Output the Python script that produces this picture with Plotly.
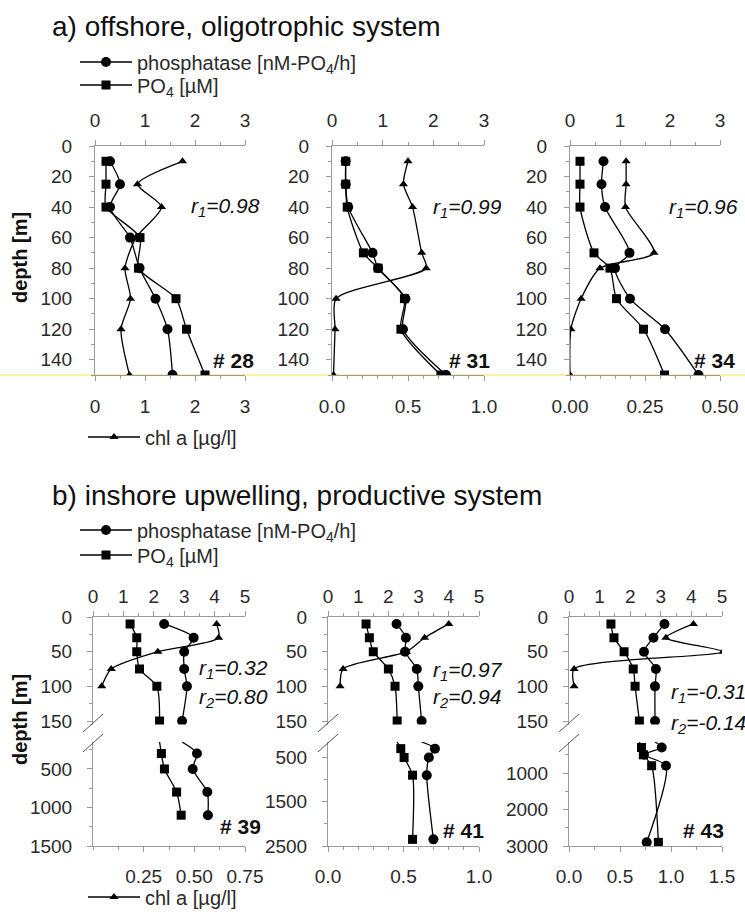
import plotly.graph_objects as go

W, H = 745, 915
def px(x): return x / W
def py(y): return 1 - y / H

FONT = "Liberation Sans, Arial, sans-serif"
AXC = "#9a9a9a"
TXT = "#2a2a2a"

# ---------------- data: a) offshore, oligotrophic system ----------------
depth28 = [10, 25, 40, 60, 80, 100, 120, 150]
phos28 = [0.30, 0.50, 0.30, 0.70, 0.89, 1.21, 1.45, 1.55]
po4_28 = [0.22, 0.22, 0.22, 0.90, 0.87, 1.62, 1.83, 2.20]
chl28 = [1.75, 0.85, 1.33, 0.82, 0.60, 0.71, 0.52, 0.69]

depth31 = [10, 25, 40, 70, 80, 100, 120, 150]
phos31 = [0.27, 0.27, 0.32, 0.80, 0.91, 1.45, 1.40, 2.25]
po4_31 = [0.27, 0.27, 0.30, 0.62, 0.91, 1.43, 1.36, 2.15]
chl31 = [0.50, 0.47, 0.53, 0.59, 0.62, 0.027, 0.02, 0.01]

depth34 = [10, 25, 40, 70, 80, 100, 120, 150]
phos34 = [0.67, 0.63, 0.70, 1.19, 0.90, 1.20, 1.90, 2.57]
po4_34 = [0.20, 0.20, 0.20, 0.48, 0.80, 0.93, 1.47, 1.89]
chl34 = [0.187, 0.187, 0.185, 0.28, 0.10, 0.037, 0.003, 0.0]

# ---------------- data: b) inshore upwelling, productive system ----------------
depth_up = [10, 30, 50, 75, 100, 150]
depth_chl = [10, 30, 50, 75, 100]

phos39_u = [2.34, 3.31, 3.00, 3.00, 3.09, 2.93]
po4_39_u = [1.22, 1.44, 1.44, 1.53, 2.10, 2.19]
chl39 = [0.61, 0.62, 0.32, 0.09, 0.043]
depth39_l = [300, 500, 800, 1100]
phos39_l = [3.42, 3.28, 3.76, 3.78]
po4_39_l = [2.25, 2.35, 2.75, 2.90]

phos41_u = [2.27, 2.58, 2.55, 2.94, 2.99, 3.10]
po4_41_u = [1.26, 1.37, 1.50, 2.00, 2.22, 2.29]
chl41 = [0.80, 0.64, 0.52, 0.10, 0.08]
depth41_l = [300, 500, 900, 2350]
phos41_l = [3.54, 3.34, 3.27, 3.49]
po4_41_l = [2.41, 2.52, 2.80, 2.80]

phos43_u = [3.12, 2.76, 2.45, 2.84, 2.81, 2.81]
po4_43_u = [1.37, 1.47, 1.80, 2.10, 2.16, 2.30]
chl43 = [1.22, 0.95, 1.51, 0.05, 0.05]
depth43_l = [300, 500, 800, 2900]
phos43_l = [3.03, 2.45, 3.17, 2.54]
po4_43_l = [2.37, 2.43, 2.70, 2.92]

r_a = ["0.98", "0.99", "0.96"]
r1_b = ["0.32", "0.97", "-0.31"]
r2_b = ["0.80", "0.94", "-0.14"]
stations_a = ["28", "31", "34"]
stations_b = ["39", "41", "43"]

name_phos = "phosphatase [nM-PO<sub>4</sub>/h]"
name_po4 = "PO<sub>4</sub> [µM]"
name_chl = "chl a [µg/l]"

# ---------------- styling helpers ----------------
TICKSIZE = 19
LINE = dict(color="black", width=1.3, shape="spline", smoothing=0.7)
MK = {"phos": dict(symbol="circle", size=10, color="black", opacity=1),
      "po4": dict(symbol="square", size=9, color="black", opacity=1),
      "chl": dict(symbol="triangle-up", size=8, color="black", opacity=1)}

def axis_common():
    return dict(showline=True, linecolor=AXC, linewidth=1, ticks="outside", ticklen=5,
                tickcolor=AXC, tickwidth=1, showgrid=False, zeroline=False, fixedrange=True,
                automargin=False, tickfont=dict(size=TICKSIZE, color=TXT, family=FONT))

layout = {}
fig = go.Figure()
xc = [0]
yc = [0]

def new_x(**kw):
    xc[0] += 1
    n = xc[0]
    key = "xaxis" if n == 1 else f"xaxis{n}"
    d = axis_common(); d.update(kw)
    layout[key] = d
    return "x" if n == 1 else f"x{n}"

def new_y(**kw):
    yc[0] += 1
    n = yc[0]
    key = "yaxis" if n == 1 else f"yaxis{n}"
    d = axis_common(); d.update(kw)
    layout[key] = d
    return "y" if n == 1 else f"y{n}"

def set_anchor(axid, anchor):
    key = ("xaxis" if axid[0] == "x" else "yaxis") + axid[1:]
    layout[key]["anchor"] = anchor

def add(x, y, xa, ya, kind, name=None, legend=None, mode="lines+markers"):
    fig.add_trace(go.Scatter(x=x, y=y, xaxis=xa, yaxis=ya, mode=mode,
                             line=LINE, marker=MK[kind], name=name or "",
                             showlegend=legend is not None, legend=legend or "legend",
                             cliponaxis=True, hoverinfo="skip"))

# ---------------- panel a ----------------
a_x = [(95, 245), (332, 484), (570, 720)]
a_y = (146, 375)
a_chl = [dict(range=[0, 3], tick0=0, dtick=1, minor=0.5, fmt=""),
         dict(range=[0, 1], tick0=0, dtick=0.5, minor=0.1, fmt=".1f"),
         dict(range=[0, 0.5], tick0=0, dtick=0.25, minor=0.05, fmt=".2f")]
a_data = [(depth28, phos28, po4_28, chl28), (depth31, phos31, po4_31, chl31),
          (depth34, phos34, po4_34, chl34)]

for i in range(3):
    dom = [px(a_x[i][0]), px(a_x[i][1])]
    xt = new_x(domain=dom, range=[0, 3], side="top", tickmode="linear", tick0=0, dtick=1,
               minor=dict(ticks="outside", ticklen=3, tickcolor=AXC, dtick=0.5),
               ticklabelstandoff=5)
    c = a_chl[i]
    xb = new_x(domain=dom, range=c["range"], side="bottom", tickmode="linear", tick0=c["tick0"],
               dtick=c["dtick"], tickformat=c["fmt"], overlaying=xt,
               minor=dict(ticks="outside", ticklen=3, tickcolor=AXC, dtick=c["minor"]),
               ticklabelstandoff=9)
    ya = new_y(domain=[py(a_y[1]), py(a_y[0])], range=[150, 0], tickmode="linear", tick0=0,
               dtick=20, minor=dict(ticks="outside", ticklen=3, tickcolor=AXC, dtick=10),
               ticklabelstandoff=13)
    set_anchor(xt, ya); set_anchor(xb, ya); set_anchor(ya, xt)
    d, ph, po, ch = a_data[i]
    leg = i == 0
    add(ph, d, xt, ya, "phos", name_phos if leg else None, "legend" if leg else None)
    add(po, d, xt, ya, "po4", name_po4 if leg else None, "legend2" if leg else None)
    add(ch, d, xb, ya, "chl", name_chl if leg else None, "legend3" if leg else None)

# ---------------- panel b ----------------
b_x = [(93, 245), (328, 479), (569, 722)]
b_up = (617, 724.5)
b_lo = (742, 846)
b_lo_rng = [1500, 2500, 3000]
b_lo_ticks = [dict(vals=[500, 1000, 1500], minor=250),
              dict(vals=[500, 1500, 2500], minor=500),
              dict(vals=[1000, 2000, 3000], minor=500)]
b_chl = [dict(range=[0, 0.75], vals=[0.25, 0.5, 0.75], fmt=".2f", minor=0.125),
         dict(range=[0, 1.0], vals=[0, 0.5, 1.0], fmt=".1f", minor=0.1),
         dict(range=[0, 1.5], vals=[0, 0.5, 1.0, 1.5], fmt=".1f", minor=0.25)]
b_data = [(phos39_u, po4_39_u, chl39, depth39_l, phos39_l, po4_39_l),
          (phos41_u, po4_41_u, chl41, depth41_l, phos41_l, po4_41_l),
          (phos43_u, po4_43_u, chl43, depth43_l, phos43_l, po4_43_l)]

for i in range(3):
    dom = [px(b_x[i][0]), px(b_x[i][1])]
    xt = new_x(domain=dom, range=[0, 5], side="top", tickmode="linear", tick0=0, dtick=1,
               minor=dict(ticks="outside", ticklen=3, tickcolor=AXC, dtick=0.5),
               ticklabelstandoff=0)
    c = b_chl[i]
    xb = new_x(domain=dom, range=c["range"], side="bottom", tickmode="array", tickvals=c["vals"],
               tickformat=c["fmt"], overlaying=xt,
               minor=dict(ticks="outside", ticklen=3, tickcolor=AXC, tickmode="linear",
                          tick0=0, dtick=c["minor"]),
               ticklabelstandoff=8)
    yu = new_y(domain=[py(b_up[1]), py(b_up[0])], range=[155, 0], tickmode="array",
               tickvals=[0, 50, 100, 150],
               minor=dict(ticks="outside", ticklen=3, tickcolor=AXC, tickmode="array",
                          tickvals=[25, 75, 125]),
               ticklabelstandoff=11)
    t = b_lo_ticks[i]
    yl = new_y(domain=[py(b_lo[1]), py(b_lo[0])], range=[b_lo_rng[i], 150], tickmode="array",
               tickvals=t["vals"],
               minor=dict(ticks="outside", ticklen=3, tickcolor=AXC, tickmode="linear",
                          tick0=0, dtick=t["minor"]),
               ticklabelstandoff=11)
    set_anchor(xt, yu); set_anchor(xb, yl); set_anchor(yu, xt); set_anchor(yl, xt)
    ph, po, ch, dl, phl, pol = b_data[i]
    leg = i == 0
    add(ph, depth_up, xt, yu, "phos", name_phos if leg else None, "legend4" if leg else None)
    add(po, depth_up, xt, yu, "po4", name_po4 if leg else None, "legend5" if leg else None)
    add(ch, depth_chl, xb, yu, "chl", name_chl if leg else None, "legend6" if leg else None)
    # lower segment: line continues from the 150 m sample across the axis break
    add([po[-1]] + pol, [depth_up[-1]] + dl, xt, yl, "po4", mode="lines")
    add([ph[-1]] + phl, [depth_up[-1]] + dl, xt, yl, "phos", mode="lines")
    add(pol, dl, xt, yl, "po4", mode="markers")
    add(phl, dl, xt, yl, "phos", mode="markers")

# ---------------- legends (one entry each, placed like the original) ----------------
def legend_cfg(left, center):
    return dict(x=px(left), y=py(center), xanchor="left", yanchor="middle",
                bgcolor="rgba(0,0,0,0)", font=dict(size=20, color=TXT, family=FONT),
                itemwidth=52, borderwidth=0)

layout["legend"] = legend_cfg(75, 62)
layout["legend2"] = legend_cfg(75, 85)
layout["legend3"] = legend_cfg(83, 437)
layout["legend4"] = legend_cfg(75, 530)
layout["legend5"] = legend_cfg(75, 555)
layout["legend6"] = legend_cfg(83, 897)

# ---------------- annotations ----------------
ann = []
def text(x, y, s, size=15, bold=False, italic=False, anchor="left", angle=0):
    if bold:
        s = f"<b>{s}</b>"
    if italic:
        s = f"<i>{s}</i>"
    ann.append(dict(x=px(x), y=py(y), xref="paper", yref="paper", text=s, showarrow=False,
                    xanchor=anchor, yanchor="middle", textangle=angle,
                    font=dict(size=size, color="#111", family=FONT)))

text(50, 26, "a) offshore, oligotrophic system", size=28)
text(50, 496, "b) inshore upwelling, productive system", size=28)
text(20, 258, "depth [m]", size=20, bold=True, anchor="center", angle=-90)
text(20, 720, "depth [m]", size=20, bold=True, anchor="center", angle=-90)

r_a_pos = [(189, 207), (431, 208), (667, 208)]
for i in range(3):
    text(r_a_pos[i][0], r_a_pos[i][1], f"r<sub>1</sub>={r_a[i]}", size=21, italic=True)
st_a_pos = [(211, 360), (447, 360), (692, 360)]
for i in range(3):
    text(st_a_pos[i][0], st_a_pos[i][1], f"# {stations_a[i]}", size=21, bold=True)

r_b_pos = [(197, 669, 698), (431, 671, 698), (669, 693, 724)]
for i in range(3):
    x, y1, y2 = r_b_pos[i]
    text(x, y1, f"r<sub>1</sub>={r1_b[i]}", size=21, italic=True)
    text(x, y2, f"r<sub>2</sub>={r2_b[i]}", size=21, italic=True)
st_b_pos = [(218, 826), (441, 830), (681, 830)]
for i in range(3):
    text(st_b_pos[i][0], st_b_pos[i][1], f"# {stations_b[i]}", size=21, bold=True)

# ---------------- decorations: axis breaks and scan highlight ----------------
shapes = []
for i in range(3):
    cx = b_x[i][0]
    for cy in (723, 743):
        shapes.append(dict(type="line", xref="paper", yref="paper",
                           x0=px(cx - 10), y0=py(cy + 9), x1=px(cx + 10), y1=py(cy - 9),
                           line=dict(color="#555", width=1)))
shapes.append(dict(type="line", xref="paper", yref="paper", x0=0, x1=1, y0=py(375), y1=py(375),
                   line=dict(color="rgba(250,236,130,0.75)", width=2), layer="below"))

layout.update(dict(width=W, height=H,
                   margin=dict(l=0, r=0, t=0, b=0, pad=0, autoexpand=False),
                   paper_bgcolor="white", plot_bgcolor="rgba(0,0,0,0)",
                   annotations=ann, shapes=shapes, font=dict(family=FONT, color=TXT)))
fig.update_layout(**layout)
fig.write_html("out.html", config={"displayModeBar": False, "staticPlot": True},
               post_script="document.body.style.margin='0px';")
